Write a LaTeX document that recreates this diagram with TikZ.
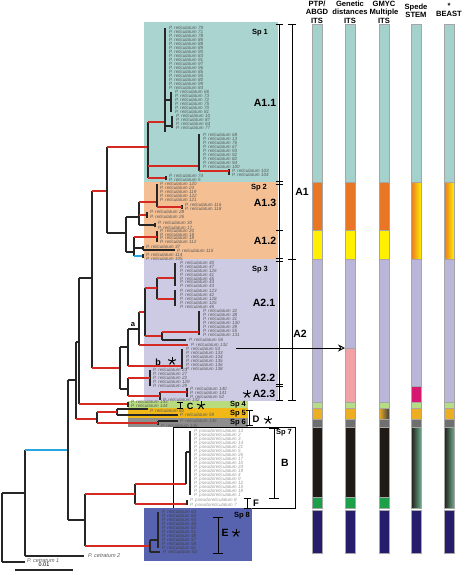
\documentclass[tikz,border=0pt]{standalone}
\usepackage{fontspec}
\setmainfont{Liberation Sans}
\usetikzlibrary{arrows.meta}
\definecolor{bgteal}{HTML}{A9D4CF}
\definecolor{bgorange}{HTML}{F4BF93}
\definecolor{bglav}{HTML}{CDCBE3}
\definecolor{bggreen}{HTML}{B8DB7E}
\definecolor{bggold}{HTML}{F2B817}
\definecolor{bggray}{HTML}{8E8E8E}
\definecolor{bgblue}{HTML}{5863AF}
\definecolor{colteal}{HTML}{A4D1CC}
\definecolor{colorange}{HTML}{E97625}
\definecolor{colyellow}{HTML}{FFEF00}
\definecolor{collav}{HTML}{B9B6DA}
\definecolor{colpink}{HTML}{F2A1A7}
\definecolor{colmag}{HTML}{D71871}
\definecolor{colgreen}{HTML}{B6DC86}
\definecolor{colgold}{HTML}{EDAE22}
\definecolor{colgray}{HTML}{6F6F6F}
\definecolor{colblack}{HTML}{1F1A16}
\definecolor{coldkgreen}{HTML}{1E9F4A}
\definecolor{colnavy}{HTML}{261E6C}
\definecolor{colsea}{HTML}{6BAA8C}
\definecolor{brred}{HTML}{D52A21}
\definecolor{brblue}{HTML}{2AA6DF}
\tikzset{
  br/.style={line width=1.1pt,draw=black!85},
  rb/.style={line width=1.9pt,draw=brred},
  bb/.style={line width=1.9pt,draw=brblue},
  seg/.style={draw=black!35,line width=0.35pt},
  tiplab/.style={anchor=west,inner sep=0pt,text=black!65,font=\fontsize{4.6}{4.6}\selectfont\itshape},
  pslab/.style={tiplab,text=black!40},
  splab/.style={inner sep=0pt,font=\fontsize{7.5}{8}\selectfont\bfseries},
  cladelab/.style={inner sep=0pt,font=\fontsize{10.5}{11}\selectfont\bfseries},
  hdr/.style={align=center,inner sep=0pt,font=\fontsize{7.6}{8.4}\selectfont\bfseries},
  brk/.style={line width=1pt},
}
\newcommand{\vbr}[4][3.5]{\draw[brk] (#2-#1,#3) -- (#2+#1,#3) (#2,#3) -- (#2,#4) (#2-#1,#4) -- (#2+#1,#4);}
\newcommand{\astk}[2]{\foreach \a in {-90,-18,54,126,198} \draw[line width=1pt] (#1,#2) -- ++(\a:4.2);}
\begin{document}
\begin{tikzpicture}[x=1pt,y=-1pt]
\useasboundingbox (0,0) rectangle (467,571);
\fill[white] (0,0) rectangle (467,571);
\fill[bgteal] (144,22) rectangle (278,182);
\fill[bgorange] (144,182) rectangle (278,259);
\fill[bglav] (144,259) rectangle (278,401);
\fill[bggreen] (128,401) rectangle (248,408);
\fill[bggold] (128,408) rectangle (248,418);
\fill[bggray] (128,418) rectangle (248,427);
\filldraw[fill=white,draw=black,line width=0.7pt] (173,427) rectangle (295,508);
\fill[bgblue] (144,508) rectangle (252,561);

\foreach \cx in {317,350,384,416,449}{
  \filldraw[seg,fill=colteal] (\cx-5,24) rectangle (\cx+5,182);
  \filldraw[seg,fill=collav] (\cx-5,259) rectangle (\cx+5,402);
  \filldraw[seg,fill=colgreen] (\cx-5,402) rectangle (\cx+5,408);
  \filldraw[seg,fill=colgold] (\cx-5,408) rectangle (\cx+5,419);
  \filldraw[seg,fill=colgray] (\cx-5,419) rectangle (\cx+5,427);
  \filldraw[seg,fill=colnavy] (\cx-5,510) rectangle (\cx+5,553);
}
\foreach \cx in {317,350,384}{
  \filldraw[seg,fill=colorange] (\cx-5,182) rectangle (\cx+5,230);
  \filldraw[seg,fill=colyellow] (\cx-5,230) rectangle (\cx+5,259);
  \filldraw[seg,fill=colblack] (\cx-5,427) rectangle (\cx+5,497);
  \filldraw[seg,fill=coldkgreen] (\cx-5,497) rectangle (\cx+5,508);
}
\foreach \cx in {416,449}{
  \shade[left color=colorange,right color=colyellow] (\cx-5,182) rectangle (\cx+5,259);
  \draw[seg] (\cx-5,182) rectangle (\cx+5,259);
  \shade[left color=colblack,right color=colsea] (\cx-5,427) rectangle (\cx+5,508);
  \draw[seg] (\cx-5,427) rectangle (\cx+5,508);
}
\filldraw[seg,fill=colpink] (345,348) rectangle (355,402);
\filldraw[seg,fill=colmag] (411,386) rectangle (421,402);
\shade[left color=colgold,right color=black!75] (379,408) rectangle (389,419);
\draw[seg] (379,408) rectangle (389,419);

\node[hdr] (hptp) at (317,12) {PTP/\\ABGD\\ITS};
\node[hdr] (hgen) at (350,12) {Genetic\\distances\\ITS};
\node[hdr] (hgmyc) at (384,12) {GMYC\\Multiple\\ITS};
\node[hdr] (hspede) at (416,10.5) {Spede\\STEM};
\node[hdr] (hstar) at (449,6) {*};
\node[hdr] (hbeast) at (449,14) {BEAST};

\draw[br] (2,493) -- (2,562) (2,493) -- (25,493) (2,562) -- (25,562);
\draw[br] (25,450) -- (25,556) (25,556) -- (84,556);
\draw[bb] (25,450) -- (68,450);
\draw[br] (68,380) -- (68,520) (68,380) -- (76,380) (68,520) -- (85,520);
\draw[br] (76,342) -- (76,419) (76,342) -- (79,342);
\draw[br] (79,278) -- (79,404) (79,278) -- (92,278);
\draw[br] (92,191) -- (92,368);
\draw[rb] (76,419) -- (97,419);
\draw[rb] (79,404) -- (128,404);
\draw[rb] (92,191) -- (107,191);
\draw[rb] (92,368) -- (120,368);

\draw[br] (107,147) -- (107,233) (107,233) -- (126,233);
\draw[rb] (107,147) -- (148,147);
\draw[br] (148,122) -- (148,178);
\draw[rb] (148,122) -- (165,122);
\draw[rb] (148,166) -- (199,166);
\draw[rb] (148,178) -- (166,178);
\draw[br] (165,28) -- (165,132) (165,100) -- (171,100) (171,92) -- (171,112);
\draw[br] (165,126) -- (172,126) (172,116) -- (172,128);
\draw[br] (199,134) -- (199,171) (229,169) -- (229,175) (166,176) -- (166,180);
\draw[rb] (199,171) -- (229,171);

\draw[br] (126,217) -- (126,252) (126,217) -- (139,217) (126,252) -- (134,252);
\draw[br] (139,202) -- (139,225) (139,225) -- (155,225) (155,223) -- (155,227);
\draw[rb] (139,202) -- (157,202);
\draw[rb] (139,215) -- (147,215);
\draw[br] (157,184) -- (157,207) (182,205) -- (182,209) (147,212) -- (147,218);
\draw[rb] (157,207) -- (182,207);
\draw[br] (134,237) -- (134,256) (157,231) -- (157,242);
\draw[rb] (134,237) -- (157,237);
\draw[br] (134,248) -- (143,248) (143,246) -- (143,250) (143,250) -- (175,250);
\draw[bb] (134,256) -- (143,256);
\draw[br] (143,254) -- (143,258);

\draw[br] (120,347) -- (120,389) (120,347) -- (128,347) (120,389) -- (128,389);
\draw[br] (128,329) -- (128,366) (128,329) -- (139,329) (139,312) -- (139,345);
\draw[rb] (128,366) -- (182,366);
\draw[rb] (139,312) -- (145,312);
\draw[rb] (139,345) -- (188,345);
\draw[br] (145,288) -- (145,336) (157,278) -- (157,299);
\draw[rb] (145,288) -- (157,288);
\draw[rb] (145,336) -- (162,336);
\draw[rb] (157,278) -- (175,278);
\draw[rb] (157,299) -- (175,299);
\draw[br] (175,263) -- (175,286) (175,290) -- (175,306);
\draw[br] (162,332) -- (162,340) (162,340) -- (186,340) (199,311) -- (199,335);
\draw[rb] (162,332) -- (199,332);
\draw[br] (182,349) -- (182,369);
\draw[br] (128,378) -- (128,396) (150,370) -- (150,386) (160,392) -- (160,400) (187,388) -- (187,397);
\draw[rb] (128,378) -- (150,378);
\draw[rb] (128,396) -- (160,396);
\draw[rb] (160,392) -- (187,392);

\draw[br] (128,402) -- (128,407);
\draw[br] (97,412) -- (97,423) (117,409) -- (117,415) (117,409) -- (148,409) (117,415) -- (178,415);
\draw[rb] (97,412) -- (117,412);
\draw[br] (158,421) -- (158,425) (158,421) -- (178,421);
\draw[rb] (97,423) -- (158,423);

\draw[br] (85,494) -- (85,546) (135,484) -- (135,504);
\draw[rb] (85,494) -- (135,494);
\draw[rb] (85,546) -- (150,546);
\draw[rb] (135,484) -- (186,484);
\draw[rb] (135,504) -- (187,504);
\draw[br] (186,452) -- (186,484) (186,452) -- (190,452) (190,431) -- (190,495) (187,500) -- (187,505);
\draw[br] (150,540) -- (150,552) (150,540) -- (158,540) (158,512) -- (158,548) (150,552) -- (160,552);

\foreach \n [count=\i] in {79,71,78,86,88,89,90,83,91,97,96,85,95,80,99,84}
  \node[tiplab] (s1a\i) at (169,{24+4*\i}) {P. reticulatum \n};
\foreach \n [count=\i] in {66,73,72,75,70,81}
  \node[tiplab] (s1b\i) at (175,{88+4*\i}) {P. reticulatum \n};
\foreach \n [count=\i] in {10,87,64,77}
  \node[tiplab] (s1c\i) at (176,{112+4*\i}) {P. reticulatum \n};
\foreach \n [count=\i] in {68,13,76,67,93,92,82,94,100}
  \node[tiplab] (s1d\i) at (203,{130.5+4*\i}) {P. reticulatum \n};
\node[tiplab] (t103) at (232,170.5) {P. reticulatum 103};
\node[tiplab] (t104) at (232,174.5) {P. reticulatum 104};
\node[tiplab] (t74) at (169,176) {P. reticulatum 74};
\node[tiplab] (t5) at (169,180) {P. reticulatum 5};

\foreach \n [count=\i] in {120,24,119,122,121}
  \node[tiplab] (s2a\i) at (160,{180+4*\i}) {P. reticulatum \n};
\node[tiplab] (t116) at (185,205) {P. reticulatum 116};
\node[tiplab] (t118) at (185,209) {P. reticulatum 118};
\node[tiplab] (t28) at (150,212) {P. reticulatum 28};
\node[tiplab] (t26) at (150,217) {P. reticulatum 26};
\node[tiplab] (t30) at (158,223) {P. reticulatum 30};
\node[tiplab] (t17) at (158,227.5) {P. reticulatum 17};
\foreach \n [count=\i] in {20,19,18,112}
  \node[tiplab] (s2b\i) at (160,{227.5+3.5*\i}) {P. reticulatum \n};
\node[tiplab] (t37) at (146,246.5) {P. reticulatum 37};
\node[tiplab] (t115) at (177,250.5) {P. reticulatum 115};
\node[tiplab] (t114) at (146,254.5) {P. reticulatum 114};
\node[tiplab] (t105) at (146,258.5) {P. reticulatum 105};

\foreach \n [count=\i] in {40,47,126,41,45,44,43}
  \node[tiplab] (s3a\i) at (180,{259.5+3.8*\i}) {P. reticulatum \n};
\foreach \n [count=\i] in {123,42,128,125,46}
  \node[tiplab] (s3b\i) at (180,{286.5+4*\i}) {P. reticulatum \n};
\foreach \n [count=\i] in {32,38,31,130,39,55,131}
  \node[tiplab] (s3c\i) at (203,{307+4*\i}) {P. reticulatum \n};
\node[tiplab] (t56) at (189,340) {P. reticulatum 56};
\node[tiplab] (t132) at (191,345) {P. reticulatum 132};
\foreach \n [count=\i] in {53,133,134,135,136,138}
  \node[tiplab] (s3d\i) at (186,{345+4*\i}) {P. reticulatum \n};
\foreach \n [count=\i] in {23,27,22,129,29}
  \node[tiplab] (s3e\i) at (153,{366+4*\i}) {P. reticulatum \n};
\node[tiplab] (t140) at (190,388.5) {P. reticulatum 140};
\node[tiplab] (t141) at (190,392.5) {P. reticulatum 141};
\node[tiplab] (t52) at (190,396.5) {P. reticulatum 52};
\node[tiplab] (t142) at (163,399.8) {P. reticulatum 142};

\node[tiplab] (t143) at (131,402) {P. reticulatum 143};
\node[tiplab] (t144) at (131,406) {P. reticulatum 144};
\node[tiplab] (t60) at (150,410.5) {P. reticulatum 60};
\node[tiplab] (t59) at (180,415) {P. reticulatum 59};
\node[tiplab] (t146) at (180,420.5) {P. reticulatum 146};
\node[tiplab] (t145) at (161,425.5) {P. reticulatum 145};
\foreach \n [count=\i] in {13,2,3,14,21,5,26,17,10,24,19,4,9,12,15,18,1}
  \node[pslab] (s7a\i) at (194,{427+4*\i}) {P. pseudoreticulatum \n};
\node[pslab] (p8) at (190,500) {P. pseudoreticulatum 8};
\node[pslab] (p7) at (190,505) {P. pseudoreticulatum 7};
\foreach \n [count=\i] in {63,64,65,49,50,51,48,57,58,61}
  \node[tiplab,text=black!75] (s8a\i) at (162,{508+4*\i}) {P. reticulatum \n};
\node[tiplab,text=black!75] (t62) at (163,552) {P. reticulatum 62};
\node[tiplab,font=\fontsize{5.5}{5.5}\selectfont\itshape] (cet1) at (27,561) {P. cetratum 1};
\node[tiplab,font=\fontsize{5.5}{5.5}\selectfont\itshape] (cet2) at (88,556) {P. cetratum 2};
\draw[br] (15,570) -- (73,570);
\node[inner sep=0pt,font=\fontsize{5.5}{5.5}\selectfont] (scale) at (44,565) {0.01};

\vbr{279}{24}{400}
\draw[brk] (275.5,181) -- (282.5,181) (275.5,184) -- (282.5,184) (275.5,230) -- (282.5,230);
\draw[brk] (275.5,258) -- (282.5,258) (275.5,261) -- (282.5,261) (275.5,384) -- (282.5,384) (275.5,386) -- (282.5,386);
\vbr[4]{292}{24}{400}
\draw[brk] (288,259) -- (296,259);
\vbr[3]{180}{402}{408}
\vbr{249}{410}{425}
\vbr[5]{274}{428}{498}
\vbr{247}{498}{508}
\vbr[5]{218}{517}{553}

\node[splab] (sp1) at (260,33) {Sp 1};
\node[cladelab] (a11) at (265,103) {A1.1};
\node[splab] (sp2) at (259,188) {Sp 2};
\node[cladelab] (a13) at (265,203) {A1.3};
\node[cladelab] (a12) at (265,241) {A1.2};
\node[splab] (sp3) at (260,270) {Sp 3};
\node[cladelab] (a21) at (264,303) {A2.1};
\node[cladelab] (a22) at (264,378) {A2.2};
\node[cladelab] (a23) at (264,394) {A2.3};
\node[cladelab] (a1) at (302,192) {A1};
\node[cladelab] (a2) at (300,334) {A2};
\node[splab] (sp4) at (238,405) {Sp 4};
\node[splab] (sp5) at (238,414) {Sp 5};
\node[splab] (sp6) at (238,423) {Sp 6};
\node[splab] (sp7) at (284,433) {Sp 7};
\node[splab] (sp8) at (242,516) {Sp 8};
\node[cladelab] (cb) at (285,463) {B};
\node[cladelab,font=\fontsize{9}{9}\selectfont\bfseries] (cc) at (190,406.3) {C};
\node[cladelab,font=\fontsize{9.5}{10}\selectfont\bfseries] (cd) at (256,419) {D};
\node[cladelab] (ce) at (225,533) {E};
\node[cladelab,font=\fontsize{9.5}{10}\selectfont\bfseries] (cf) at (256,503) {F};
\node[splab] (la) at (133,325) {a};
\node[splab,font=\fontsize{9}{9}\selectfont\bfseries] (lb) at (158,362) {b};
\astk{172}{361}
\astk{247}{394}
\astk{201}{405.5}
\astk{268}{420}
\astk{236}{533}

\coordinate (arrS) at (236,348);
\coordinate (arrE) at (345,348);
\draw[line width=0.8pt,-{Stealth[open,length=7pt,width=7pt]}] (arrS) -- (arrE);
\end{tikzpicture}
\end{document}
